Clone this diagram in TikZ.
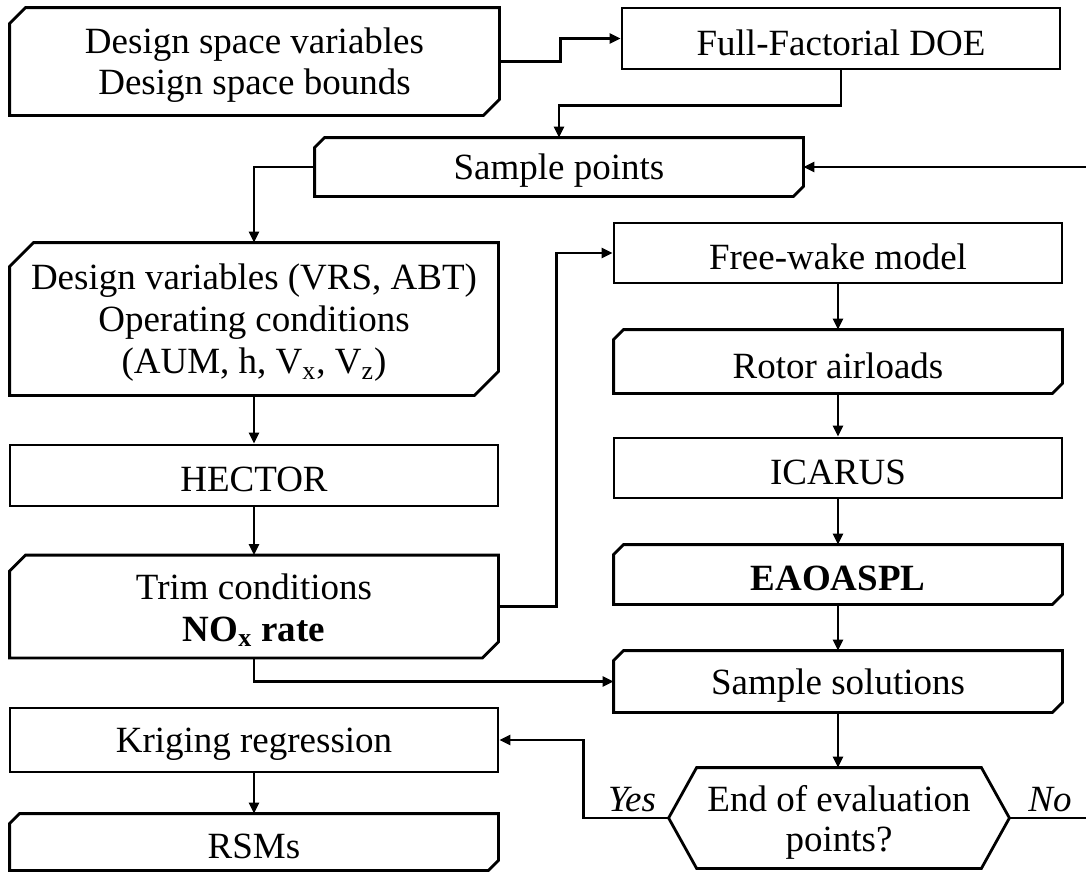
\documentclass[tikz,border=0pt]{standalone}
\usepackage{fontspec}
\setmainfont{Liberation Serif}
\usetikzlibrary{arrows.meta}
\newcommand{\snipdraw}[2]{\draw[boxline] ([xshift=#2]#1.north west) -- (#1.north east) -- ([yshift=#2]#1.south east) -- ([xshift=-#2]#1.south east) -- (#1.south west) -- ([yshift=-#2]#1.north west) -- cycle;}
\newcommand{\lo}[1]{\raisebox{-2pt}[\height][\depth]{#1}}
\begin{document}
\begin{tikzpicture}[x=0.5pt,y=-0.5pt,
  lbl/.style={inner sep=0pt, align=center, font=\fontsize{18.5}{19}\selectfont},
  boxline/.style={line width=1.4pt, line join=miter},
  plainbox/.style={lbl, draw, boxline},
  snipbox/.style={lbl},
  conn/.style={line width=1.3pt},
  arr/.style={conn, -{Triangle[length=5.5pt,width=5pt]}},
  tag/.style={inner sep=0pt, font=\fontsize{18.5}{19}\selectfont\itshape}
]
\useasboundingbox (0,0) rectangle (1086,873);

% left column
\node[snipbox, minimum width=244.5pt, minimum height=53.5pt] (dsv) at (254.5,61.5) {\lo{Design space variables}\\[1.5pt]\lo{Design space bounds}};
\node[snipbox, minimum width=244pt, minimum height=76pt] (dv) at (254,319) {\lo{Design variables (VRS, ABT)}\\[2pt]\lo{Operating conditions}\\[2pt]\lo{(AUM, h, V\textsubscript{x}, V\textsubscript{z})}};
\node[plainbox, minimum width=244pt, minimum height=30.5pt] (hec) at (254,475.5) {\lo{HECTOR}};
\node[snipbox, minimum width=244pt, minimum height=51pt] (trim) at (254,606.5) {\lo{Trim conditions}\\[2pt]\lo{\textbf{NO\textsubscript{x} rate}}};
\node[plainbox, minimum width=244pt, minimum height=32pt] (krig) at (254,740) {\lo{Kriging regression}};
\node[snipbox, minimum width=244pt, minimum height=28pt] (rsm) at (254,842) {\lo{RSMs}};

% middle / top
\node[plainbox, minimum width=219pt, minimum height=30.5pt] (ffd) at (841,38.5) {\lo{Full-Factorial DOE}};
\node[snipbox, minimum width=244pt, minimum height=29pt] (sp) at (559,167) {\lo{Sample points}};

% right column
\node[plainbox, minimum width=224pt, minimum height=30pt] (fw) at (838,253) {\lo{Free-wake model}};
\node[snipbox, minimum width=224pt, minimum height=31.5pt] (ra) at (838,361.5) {\lo{Rotor airloads}};
\node[plainbox, minimum width=224pt, minimum height=30pt] (ica) at (838,468) {\lo{ICARUS}};
\node[snipbox, minimum width=224pt, minimum height=29.5pt] (eao) at (838,574.5) {\lo{\textbf{EAOASPL}}};
\node[snipbox, minimum width=224pt, minimum height=30.5pt] (ss) at (838,681.5) {\lo{Sample solutions}};
\node[lbl, minimum width=142pt, minimum height=50pt] (hex) at (839,818) {\lo{End of evaluation}\\[1pt]\lo{points?}};

% outlines of snipped boxes
\snipdraw{dsv}{8pt}
\snipdraw{dv}{12pt}
\snipdraw{trim}{8pt}
\snipdraw{rsm}{5pt}
\snipdraw{sp}{5pt}
\snipdraw{ra}{5pt}
\snipdraw{eao}{5pt}
\snipdraw{ss}{5pt}
\coordinate (hexW) at ([xshift=-14pt]hex.west);
\coordinate (hexE) at ([xshift=14pt]hex.east);
\draw[boxline] (hex.north west) -- (hex.north east) -- (hexE) -- (hex.south east) -- (hex.south west) -- (hexW) -- cycle;

% labels
\node[tag] (yes) at (632,800) {Yes};
\node[tag] (no) at (1050,800) {No};

% connectors
\draw[arr] (dsv.east) -- ++(30.5pt,0pt) |- (ffd.west);
\draw[arr] (ffd.south) -- ++(0pt,-17.5pt) -| (sp.north);
\draw[arr] (sp.west) -| (dv.north);
\draw[arr] (dv.south) -- (hec.north);
\draw[arr] (hec.south) -- (trim.north);
\draw[arr] (trim.east) -- ++(29pt,0pt) |- (fw.west);
\draw[arr] (trim.south) |- (ss.west);
\draw[arr] (fw.south) -- (ra.north);
\draw[arr] (ra.south) -- (ica.north);
\draw[arr] (ica.south) -- (eao.north);
\draw[arr] (eao.south) -- (ss.north);
\draw[arr] (ss.south) -- (ss.south |- hex.north);
\draw[arr] (hexW) -- ++(-42.5pt,0pt) |- (krig.east);
\draw[arr] (krig.south) -- (rsm.north);
\draw[arr] (hexE) -- ++(45pt,0pt) |- (sp.east);
\end{tikzpicture}
\end{document}
